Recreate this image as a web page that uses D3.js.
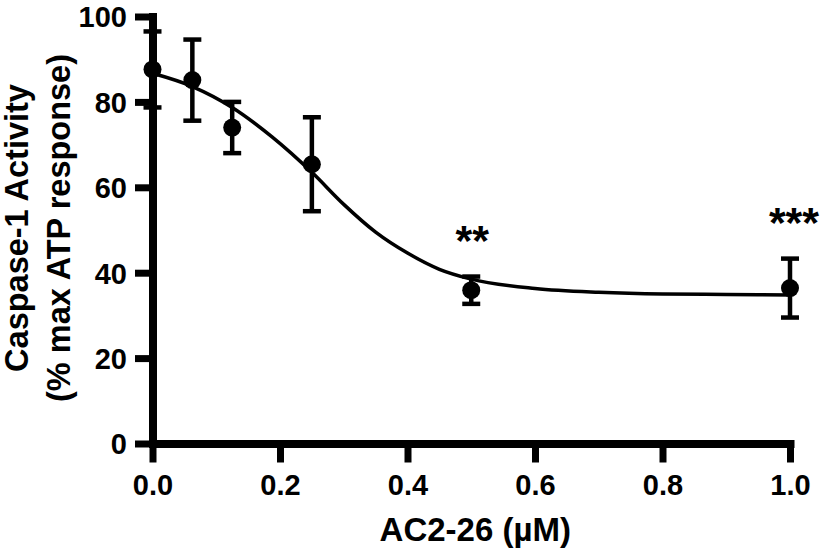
<!DOCTYPE html>
<html>
<head>
<meta charset="utf-8">
<script src="https://cdn.jsdelivr.net/npm/d3@7"></script>
<style>
  html, body { margin: 0; padding: 0; background: #fff; }
  svg { display: block; }
  text { font-family: "Liberation Sans", Arial, Helvetica, sans-serif; font-weight: bold; fill: #000; }
</style>
</head>
<body>
<svg id="chart" width="825" height="555"></svg>
<script>
// ---- data ----
const doses = [0, 0.0625, 0.125, 0.25, 0.5, 1.0];
const means = [87.6, 85.1, 74.0, 65.4, 35.9, 36.4];
const errs  = [8.9, 9.5, 6.0, 11.0, 3.2, 6.9];
const signif = ["", "", "", "", "**", "***"];

// fitted curve
const curveX = [0, 0.0625, 0.125, 0.1875, 0.25, 0.3, 0.35, 0.4, 0.45, 0.5, 0.6, 0.7, 0.8, 0.9, 1.0];
const curveY = [86.7, 83.6, 78.7, 71.8, 63.5, 56.0, 49.5, 44.6, 40.8, 38.5, 36.3, 35.4, 35.0, 34.9, 34.8];

const xTicks = [0, 0.2, 0.4, 0.6, 0.8, 1.0];
const yTicks = [0, 20, 40, 60, 80, 100];
const xLabel = "AC2-26 (µM)";
const yLabel1 = "Caspase-1 Activity";
const yLabel2 = "(% max ATP response)";

// ---- layout ----
const svg = d3.select("#chart");
const x = d3.scaleLinear().domain([0, 1]).range([152.5, 790]);
const y = d3.scaleLinear().domain([0, 100]).range([443.5, 16.5]);

const axisW = 8;

// y axis
const gy = svg.append("g").attr("transform", `translate(${x(0)},0)`)
  .call(d3.axisLeft(y).tickValues(yTicks).tickSize(17.5).tickSizeOuter(0)
        .tickFormat(d3.format("d")).tickPadding(8));
gy.select(".domain").attr("stroke", "#000").attr("stroke-width", axisW).attr("stroke-linecap", "square");
gy.selectAll(".tick line").attr("stroke", "#000").attr("stroke-width", 7);
gy.selectAll(".tick text").attr("font-size", 29).attr("font-family", null).attr("dy", "0.36em");

// x axis
const gx = svg.append("g").attr("transform", `translate(0,${y(0)})`)
  .call(d3.axisBottom(x).tickValues(xTicks).tickSize(19).tickSizeOuter(0)
        .tickFormat(d3.format(".1f")).tickPadding(12));
gx.select(".domain").attr("stroke", "#000").attr("stroke-width", axisW).attr("stroke-linecap", "square");
gx.selectAll(".tick line").attr("stroke", "#000").attr("stroke-width", 7);
gx.selectAll(".tick text").attr("font-size", 29).attr("font-family", null);

// fitted curve
const pts = curveX.map((d, i) => [d, curveY[i]]);
svg.append("path")
  .datum(pts)
  .attr("fill", "none")
  .attr("stroke", "#000")
  .attr("stroke-width", 3.5)
  .attr("d", d3.line().x(d => x(d[0])).y(d => y(d[1])).curve(d3.curveMonotoneX));

// error bars
const data = doses.map((d, i) => ({ x: d, m: means[i], e: errs[i], s: signif[i] }));
const eb = svg.append("g");
eb.selectAll("line.v").data(data).join("line")
  .attr("x1", d => x(d.x)).attr("x2", d => x(d.x))
  .attr("y1", d => y(d.m - d.e)).attr("y2", d => y(d.m + d.e))
  .attr("stroke", "#000").attr("stroke-width", 4.5);
eb.selectAll("line.top").data(data).join("line")
  .attr("x1", d => x(d.x) - 9).attr("x2", d => x(d.x) + 9)
  .attr("y1", d => y(d.m + d.e)).attr("y2", d => y(d.m + d.e))
  .attr("stroke", "#000").attr("stroke-width", 4.5);
eb.selectAll("line.bot").data(data).join("line")
  .attr("x1", d => x(d.x) - 9).attr("x2", d => x(d.x) + 9)
  .attr("y1", d => y(d.m - d.e)).attr("y2", d => y(d.m - d.e))
  .attr("stroke", "#000").attr("stroke-width", 4.5);

// points
svg.append("g").selectAll("circle").data(data).join("circle")
  .attr("cx", d => x(d.x)).attr("cy", d => y(d.m)).attr("r", 9).attr("fill", "#000");

// significance stars
svg.append("g").selectAll("text").data(data.filter(d => d.s)).join("text")
  .attr("x", d => x(d.x) + (d.s.length === 3 ? 4 : 1))
  .attr("y", d => y(d.m + d.e) - 22)
  .attr("text-anchor", "middle")
  .attr("font-size", 43)
  .text(d => d.s);

// axis titles
svg.append("text")
  .attr("x", (x(0) + x(1)) / 2 + 4).attr("y", 541)
  .attr("text-anchor", "middle").attr("font-size", 33)
  .text(xLabel);

svg.append("text")
  .attr("transform", `translate(28,228) rotate(-90)`)
  .attr("text-anchor", "middle").attr("font-size", 32.5)
  .text(yLabel1);
svg.append("text")
  .attr("transform", `translate(70,228) rotate(-90)`)
  .attr("text-anchor", "middle").attr("font-size", 32.5)
  .text(yLabel2);
</script>
</body>
</html>
